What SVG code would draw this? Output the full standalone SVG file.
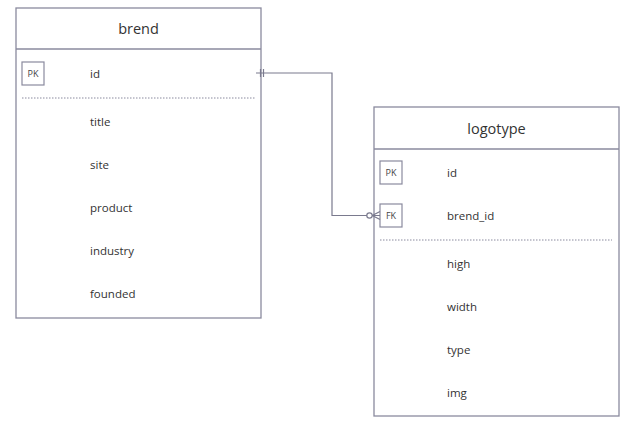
<svg xmlns="http://www.w3.org/2000/svg" width="640" height="436" viewBox="0 0 640 436">
<style>
.tbl{fill:#fff;stroke:#8a8a9e;stroke-width:1.3}
.div{stroke:#8a8a9e;stroke-width:1.3}
.dot{stroke:#8a8a9e;stroke-width:1;stroke-dasharray:1.5,1.5}
.key{fill:#fff;stroke:#8a8a9e;stroke-width:1.2}
.keyt{font-family:"Open Sans","DejaVu Sans",sans-serif;font-size:9px;fill:#444;text-anchor:middle}
.hdr{font-family:"Open Sans","DejaVu Sans",sans-serif;font-size:14.5px;fill:#333;text-anchor:middle}
.fld{font-family:"Open Sans","DejaVu Sans",sans-serif;font-size:11.5px;fill:#333}
.con{fill:none;stroke:#7a7a8e;stroke-width:1.2}
</style>
<rect width="640" height="436" fill="#fff"/>
<g id="brend">
<rect class="tbl" x="16" y="8" width="245" height="310"/>
<line class="div" x1="16" y1="49" x2="261" y2="49"/>
<text class="hdr" x="138.5" y="34">brend</text>
<rect class="key" x="22" y="62" width="22" height="23"/>
<text class="keyt" x="33" y="77">PK</text>
<text class="fld" x="90" y="78">id</text>
<line class="dot" x1="22" y1="98" x2="256" y2="98"/>
<text class="fld" x="90" y="126">title</text>
<text class="fld" x="90" y="169">site</text>
<text class="fld" x="90" y="212">product</text>
<text class="fld" x="90" y="255">industry</text>
<text class="fld" x="90" y="298">founded</text>
</g>
<g id="logotype">
<rect class="tbl" x="374" y="107" width="245" height="309"/>
<line class="div" x1="374" y1="149" x2="619" y2="149"/>
<text class="hdr" x="496.5" y="134">logotype</text>
<rect class="key" x="380" y="161" width="22" height="23"/>
<text class="keyt" x="391" y="176">PK</text>
<text class="fld" x="447" y="177">id</text>
<rect class="key" x="380" y="204" width="22" height="23"/>
<text class="keyt" x="391" y="219">FK</text>
<text class="fld" x="447" y="220">brend_id</text>
<line class="dot" x1="380" y1="240" x2="612" y2="240"/>
<text class="fld" x="447" y="268">high</text>
<text class="fld" x="447" y="311">width</text>
<text class="fld" x="447" y="354">type</text>
<text class="fld" x="447" y="397">img</text>
</g>
<g id="connectors">
<path class="con" d="M256,73 H332 V215.5 H367"/>
<line class="con" x1="260.5" y1="69" x2="260.5" y2="77"/>
<line class="con" x1="263.5" y1="69" x2="263.5" y2="77"/>
<circle class="con" cx="369.5" cy="215.5" r="2.7" fill="#fff"/>
<path class="con" d="M372.2,215.5 L380,215.5 M372.2,215.5 L380,211.5 M372.2,215.5 L380,219.5"/>
</g>
</svg>
